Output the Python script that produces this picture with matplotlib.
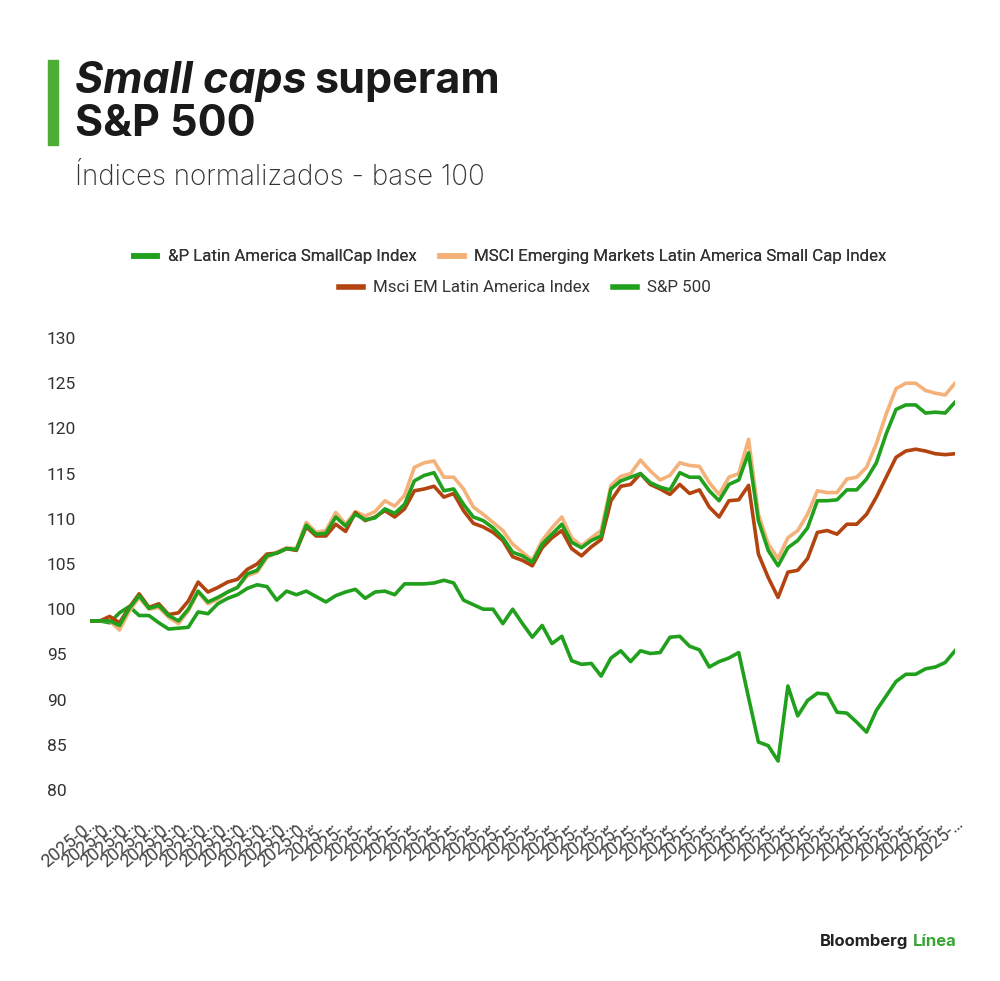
import matplotlib
matplotlib.use("Agg")
import matplotlib.pyplot as plt
from matplotlib.lines import Line2D

plt.rcParams['font.family'] = ['Roboto', 'DejaVu Sans']

# index values, normalised (one point per trading day)
sp_latam_smallcap = [
    98.7, 98.7, 98.7, 98.2, 100.1, 101.5, 100.1, 100.4, 99.3, 98.7,
    100.0, 102.0, 100.8, 101.3, 101.9, 102.4, 103.9, 104.3, 105.9, 106.2,
    106.7, 106.6, 109.3, 108.3, 108.4, 110.2, 109.2, 110.5, 109.9, 110.1,
    111.1, 110.6, 111.6, 114.2, 114.8, 115.1, 113.1, 113.3, 111.6, 110.2,
    109.8, 109.0, 107.9, 106.3, 105.9, 105.2, 107.2, 108.3, 109.4, 107.4,
    106.8, 107.6, 108.1, 113.3, 114.2, 114.6, 115.0, 114.0, 113.5, 113.2,
    115.1, 114.6, 114.6, 113.1, 112.0, 113.8, 114.3, 117.3, 109.8, 106.5,
    104.8, 106.8, 107.6, 109.0, 112.0, 112.0, 112.1, 113.2, 113.2, 114.4,
    116.2, 119.4, 122.1, 122.6, 122.6, 121.7, 121.8, 121.7, 122.9]
msci_em_latam_smallcap = [
    98.7, 98.7, 98.7, 97.7, 99.8, 101.3, 100.0, 100.2, 99.1, 98.4,
    99.8, 101.9, 100.6, 101.1, 101.9, 102.4, 103.7, 104.1, 105.7, 106.3,
    106.8, 106.7, 109.6, 108.5, 108.7, 110.7, 109.4, 110.8, 110.3, 110.8,
    112.0, 111.4, 112.6, 115.7, 116.2, 116.4, 114.6, 114.6, 113.3, 111.3,
    110.5, 109.6, 108.7, 107.2, 106.3, 105.4, 107.6, 109.0, 110.2, 107.9,
    107.0, 107.9, 108.7, 113.7, 114.7, 115.0, 116.5, 115.3, 114.3, 114.8,
    116.2, 115.9, 115.8, 114.0, 112.7, 114.6, 115.0, 118.8, 110.5, 107.2,
    105.6, 107.9, 108.7, 110.5, 113.1, 112.9, 112.9, 114.4, 114.6, 115.7,
    118.3, 121.6, 124.4, 125.0, 125.0, 124.2, 123.9, 123.7, 125.0]
msci_em_latam = [
    98.7, 98.7, 99.2, 98.5, 100.2, 101.7, 100.2, 100.6, 99.4, 99.6,
    100.9, 103.0, 101.9, 102.4, 103.0, 103.3, 104.4, 105.0, 106.1, 106.2,
    106.7, 106.5, 109.1, 108.1, 108.1, 109.4, 108.6, 110.7, 109.8, 110.2,
    110.9, 110.2, 111.1, 113.1, 113.3, 113.6, 112.4, 112.8, 110.9, 109.5,
    109.1, 108.5, 107.6, 105.8, 105.4, 104.8, 106.8, 107.9, 108.7, 106.7,
    105.9, 106.9, 107.7, 112.0, 113.6, 113.8, 115.0, 113.8, 113.3, 112.7,
    113.8, 112.8, 113.2, 111.3, 110.2, 112.0, 112.1, 113.7, 106.1, 103.5,
    101.3, 104.1, 104.3, 105.6, 108.5, 108.7, 108.3, 109.4, 109.4, 110.5,
    112.4, 114.6, 116.8, 117.5, 117.7, 117.5, 117.2, 117.1, 117.2]
sp500 = [
    98.7, 98.7, 98.5, 99.6, 100.3, 99.3, 99.3, 98.5, 97.8, 97.9,
    98.0, 99.7, 99.5, 100.6, 101.2, 101.6, 102.3, 102.7, 102.5, 101.0,
    102.0, 101.6, 102.0, 101.4, 100.8, 101.5, 101.9, 102.2, 101.2, 101.9,
    102.0, 101.6, 102.8, 102.8, 102.8, 102.9, 103.2, 102.9, 101.0, 100.5,
    100.0, 100.0, 98.4, 100.0, 98.4, 96.9, 98.2, 96.2, 97.0, 94.3,
    93.9, 94.0, 92.6, 94.6, 95.4, 94.2, 95.4, 95.1, 95.2, 96.9,
    97.0, 95.9, 95.5, 93.6, 94.2, 94.6, 95.2, 90.2, 85.3, 84.9,
    83.2, 91.5, 88.2, 89.9, 90.7, 90.6, 88.6, 88.5, 87.5, 86.4,
    88.8, 90.4, 92.0, 92.8, 92.8, 93.4, 93.6, 94.1, 95.4]

series_names = ['&P Latin America SmallCap Index',
                'MSCI Emerging Markets Latin America Small Cap Index',
                'Msci EM Latin America Index',
                'S&P 500']
# truncated date labels as shown on the axis, one every 2 points
tick_labels = ['2025-0\u2026'] * 12 + ['2025-\u2026'] * 33
yticks = [80, 85, 90, 95, 100, 105, 110, 115, 120, 125, 130]

c_green = '#20a01c'
c_orange = '#f4b27a'
c_brown = '#b3430f'
text_col = '#333333'

fig = plt.figure(figsize=(10, 9.81), dpi=100)
ax = fig.add_axes([0.09, 1 - 799 / 981, 0.865, 470 / 981])

x = list(range(len(sp500)))
ax.plot(x, sp500, color=c_green, lw=2.6, zorder=2)
ax.plot(x, msci_em_latam_smallcap, color=c_orange, lw=2.6, zorder=3)
ax.plot(x, msci_em_latam, color=c_brown, lw=2.6, zorder=4)
ax.plot(x, sp_latam_smallcap, color=c_green, lw=2.6, zorder=5)

ax.set_xlim(0, len(sp500) - 1)
ax.set_ylim(79, 131)
for s in ax.spines.values():
    s.set_visible(False)

ax.set_yticks(yticks)
ax.set_yticklabels([str(v) for v in yticks])
ax.tick_params(axis='y', length=0, pad=31, labelsize=12.5, labelcolor=text_col)
for lab in ax.get_yticklabels():
    lab.set_horizontalalignment('left')

ax.set_xticks(x[::2])
ax.set_xticklabels(tick_labels, rotation=40, ha='right', rotation_mode='anchor')
ax.tick_params(axis='x', length=0, pad=11, labelsize=13, labelcolor='#444444')

# legend, two centred rows
handles = [Line2D([], [], color=c, lw=4) for c in (c_green, c_orange, c_brown, c_green)]
leg1 = fig.legend(handles[:2], series_names[:2], loc='center', ncol=2,
                  bbox_to_anchor=(0.51, 1 - 257 / 981), frameon=False,
                  fontsize=12.2, handlelength=1.4, handletextpad=0.6,
                  columnspacing=1.4, labelcolor=text_col)
fig.add_artist(leg1)
fig.legend(handles[2:], series_names[2:], loc='center', ncol=2,
           bbox_to_anchor=(0.525, 1 - 288 / 981), frameon=False,
           fontsize=12.2, handlelength=1.4, handletextpad=0.6,
           columnspacing=1.4, labelcolor=text_col)

# title block
fig.patches.append(plt.Rectangle((48 / 1000, 1 - 145 / 981), 10 / 1000, 85 / 981,
                                 transform=fig.transFigure, color='#4cae34'))
t1 = fig.text(75 / 1000, 1 - 93 / 981, 'Small caps', family='Inter', fontsize=31,
              fontweight='bold', style='italic', color='#1a1a1a')
r = fig.canvas.get_renderer()
bb = t1.get_window_extent(r)
fig.text(bb.x1 / 1000 + 0.008, 1 - 93 / 981, 'superam', family='Inter', fontsize=31,
         fontweight='bold', color='#1a1a1a')
fig.text(75 / 1000, 1 - 136 / 981, 'S&P 500', family='Inter', fontsize=31,
         fontweight='bold', color='#1a1a1a')
fig.text(75 / 1000, 1 - 185 / 981, 'Índices normalizados - base 100', family='Inter',
         fontsize=20, fontweight='light', color='#333333')

# brand
b1 = fig.text(820 / 1000, 1 - 946 / 981, 'Bloomberg', family='Inter', fontsize=12,
              fontweight='bold', color='#222222')
bb = b1.get_window_extent(r)
fig.text(bb.x1 / 1000 + 0.004, 1 - 946 / 981, 'Línea', family='Inter', fontsize=12,
         fontweight='bold', color='#3aa535')

fig.savefig('out.png', dpi=100, facecolor='white')
